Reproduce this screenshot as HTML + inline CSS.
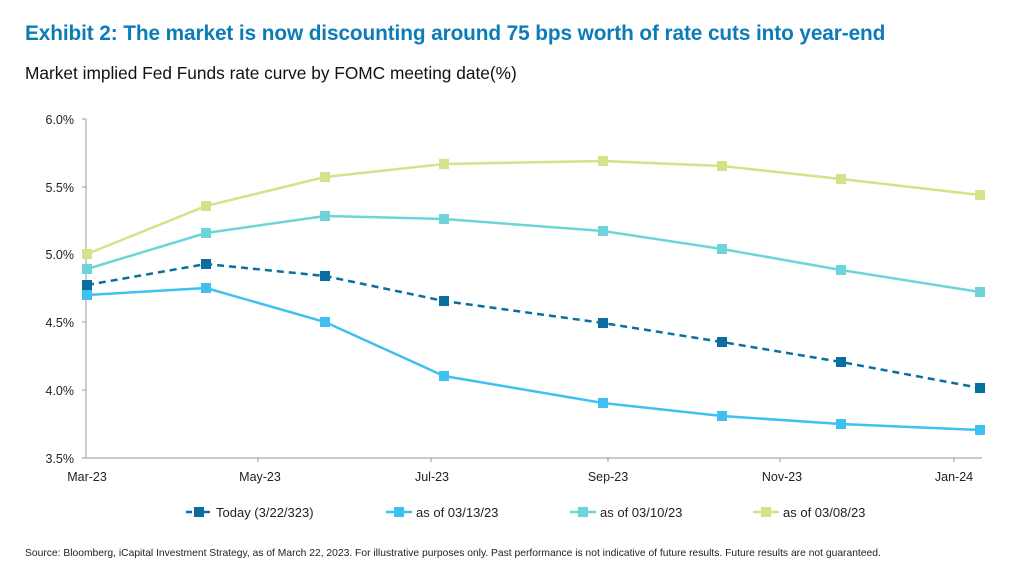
<!DOCTYPE html>
<html><head><meta charset="utf-8"><style>
body{margin:0;background:#fff;width:1024px;height:576px;overflow:hidden;font-family:"Liberation Sans",sans-serif}
</style></head><body>
<svg width="1024" height="576" xmlns="http://www.w3.org/2000/svg" font-family="Liberation Sans, sans-serif">
<text x="25" y="40" font-size="20.8" font-weight="bold" fill="#0b7cb8" letter-spacing="-0.1">Exhibit 2: The market is now discounting around 75 bps worth of rate cuts into year-end</text>
<text x="25" y="79" font-size="17.3" fill="#111">Market implied Fed Funds rate curve by FOMC meeting date(%)</text>
<g font-size="12.5" fill="#222" text-anchor="end">
<text x="74" y="124">6.0%</text><text x="74" y="192">5.5%</text><text x="74" y="259">5.0%</text>
<text x="74" y="327">4.5%</text><text x="74" y="395">4.0%</text><text x="74" y="463">3.5%</text>
</g>
<g stroke="#aaa" stroke-width="1.2" fill="none">
<line x1="86" y1="119" x2="86" y2="458"/><line x1="82" y1="119" x2="86" y2="119"/>
<line x1="82" y1="187" x2="86" y2="187"/><line x1="82" y1="254" x2="86" y2="254"/>
<line x1="82" y1="322" x2="86" y2="322"/><line x1="82" y1="390" x2="86" y2="390"/>
<line x1="82" y1="458" x2="982" y2="458"/>
<line x1="258" y1="458" x2="258" y2="462"/><line x1="431" y1="458" x2="431" y2="462"/>
<line x1="608" y1="458" x2="608" y2="462"/><line x1="780" y1="458" x2="780" y2="462"/>
<line x1="954" y1="458" x2="954" y2="462"/>
</g>
<g font-size="12.5" fill="#222" text-anchor="middle">
<text x="87" y="481">Mar-23</text><text x="260" y="481">May-23</text><text x="432" y="481">Jul-23</text>
<text x="608" y="481">Sep-23</text><text x="782" y="481">Nov-23</text><text x="954" y="481">Jan-24</text>
</g>
<defs>
<g id="m"><rect x="-5" y="-5" width="10" height="10"/></g>
</defs>
<g fill="none" stroke-width="2.5">
<polyline stroke="#d4e38a" points="87,254 206,206 325,177 444,164 603,161 722,166 841,179 980,195"/>
<polyline stroke="#6dd5d9" points="87,269 206,233 325,216 444,219 603,231 722,249 841,270 980,292"/>
<polyline stroke="#0a6fa0" stroke-dasharray="7,5" points="87,285 206,264 325,276 444,301 603,323 722,342 841,362 980,388"/>
<polyline stroke="#3ec1f0" points="87,295 206,288 325,322 444,376 603,403 722,416 841,424 980,430"/>
</g>
<g fill="#d4e38a"><use href="#m" x="87" y="254"/><use href="#m" x="206" y="206"/><use href="#m" x="325" y="177"/><use href="#m" x="444" y="164"/><use href="#m" x="603" y="161"/><use href="#m" x="722" y="166"/><use href="#m" x="841" y="179"/><use href="#m" x="980" y="195"/></g>
<g fill="#6dd5d9"><use href="#m" x="87" y="269"/><use href="#m" x="206" y="233"/><use href="#m" x="325" y="216"/><use href="#m" x="444" y="219"/><use href="#m" x="603" y="231"/><use href="#m" x="722" y="249"/><use href="#m" x="841" y="270"/><use href="#m" x="980" y="292"/></g>
<g fill="#0a6fa0"><use href="#m" x="87" y="285"/><use href="#m" x="206" y="264"/><use href="#m" x="325" y="276"/><use href="#m" x="444" y="301"/><use href="#m" x="603" y="323"/><use href="#m" x="722" y="342"/><use href="#m" x="841" y="362"/><use href="#m" x="980" y="388"/></g>
<g fill="#3ec1f0"><use href="#m" x="87" y="295"/><use href="#m" x="206" y="288"/><use href="#m" x="325" y="322"/><use href="#m" x="444" y="376"/><use href="#m" x="603" y="403"/><use href="#m" x="722" y="416"/><use href="#m" x="841" y="424"/><use href="#m" x="980" y="430"/></g>
<g stroke-width="2.5">
<line x1="186" y1="512" x2="212" y2="512" stroke="#0a6fa0" stroke-dasharray="6,3"/>
<line x1="386" y1="512" x2="412" y2="512" stroke="#3ec1f0"/>
<line x1="570" y1="512" x2="596" y2="512" stroke="#6dd5d9"/>
<line x1="753" y1="512" x2="779" y2="512" stroke="#d4e38a"/>
</g>
<use href="#m" x="199" y="512" fill="#0a6fa0"/><use href="#m" x="399" y="512" fill="#3ec1f0"/>
<use href="#m" x="583" y="512" fill="#6dd5d9"/><use href="#m" x="766" y="512" fill="#d4e38a"/>
<g font-size="13" fill="#222">
<text x="216" y="517">Today (3/22/323)</text><text x="416" y="517">as of 03/13/23</text>
<text x="600" y="517">as of 03/10/23</text><text x="783" y="517">as of 03/08/23</text>
</g>
<text x="25" y="556" font-size="10.3" fill="#222">Source: Bloomberg, iCapital Investment Strategy, as of March 22, 2023. For illustrative purposes only. Past performance is not indicative of future results. Future results are not guaranteed.</text>
</svg>
</body></html>
